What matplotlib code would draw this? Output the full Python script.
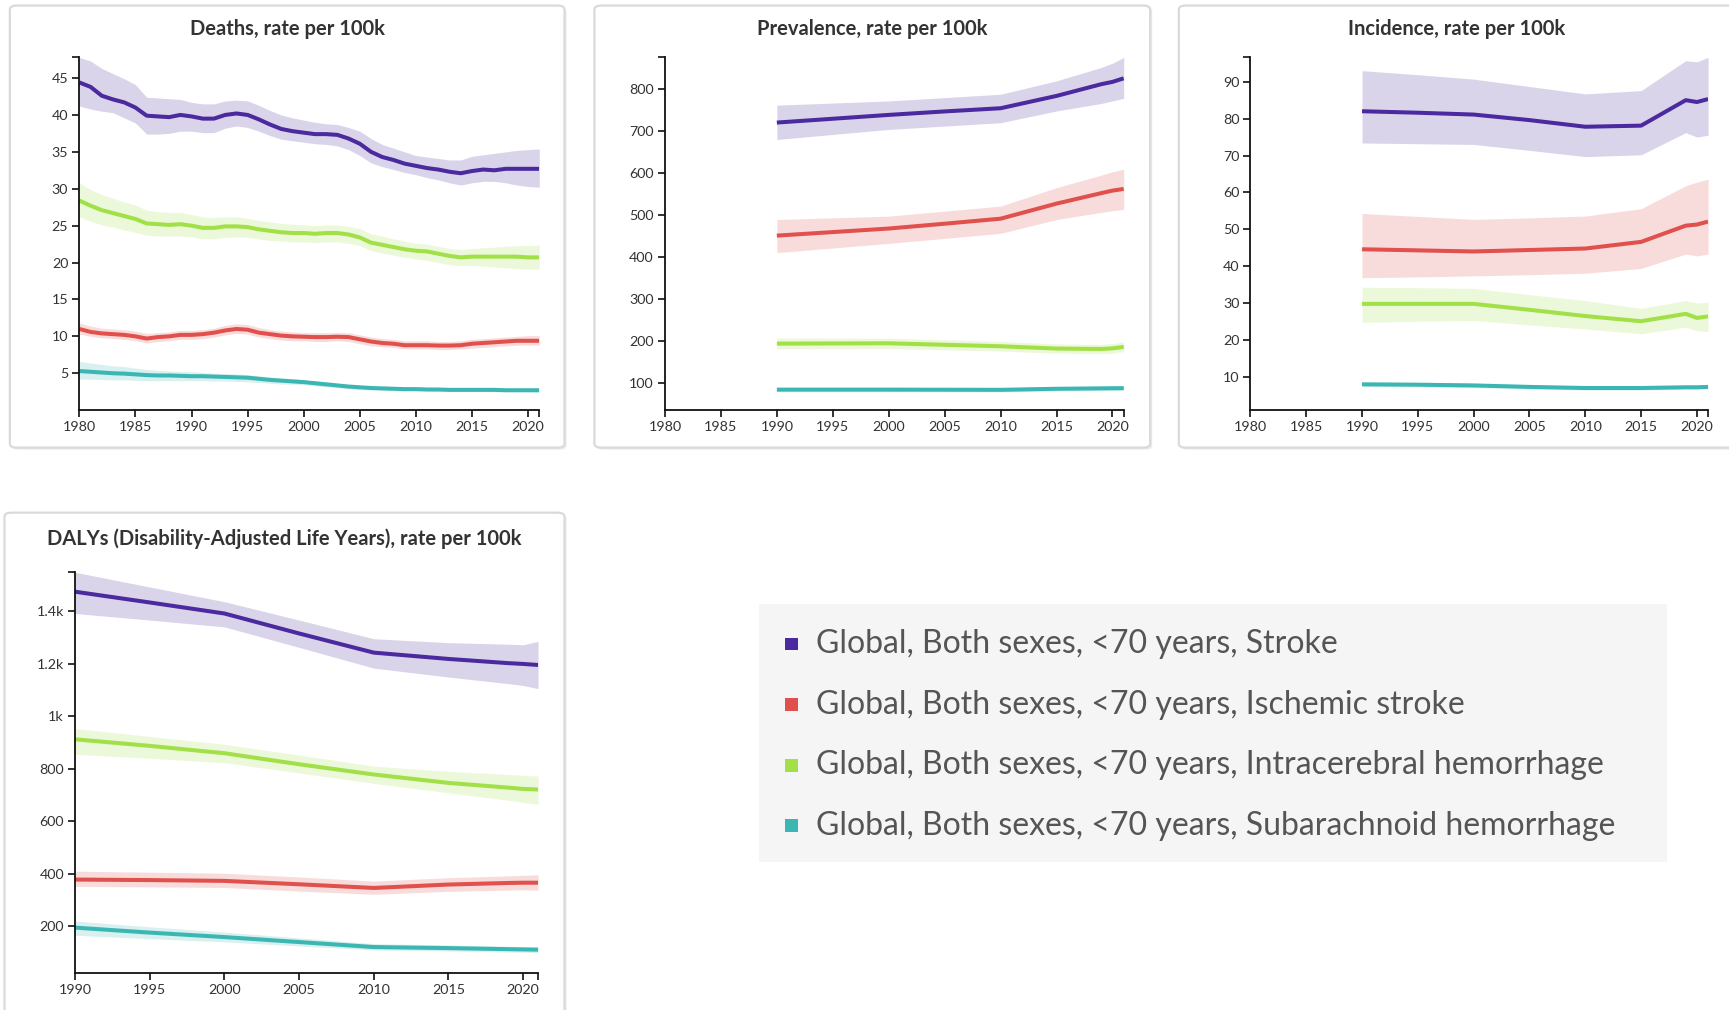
import numpy as np
import matplotlib
matplotlib.use("Agg")
import matplotlib.pyplot as plt
from matplotlib.patches import FancyBboxPatch, Rectangle

plt.rcParams['font.family'] = ['Lato', 'DejaVu Sans']

# ---- series names / colours
causes = ['Stroke', 'Ischemic stroke', 'Intracerebral hemorrhage', 'Subarachnoid hemorrhage']
colors = ['#4a2a9e', '#e0504c', '#a2e048', '#3cb6b2']
legend_labels = ['Global, Both sexes, <70 years, ' + c for c in causes]

# ---- deaths, annual 1980-2021
death_years = list(range(1980, 2022))
death_stroke = [44.4, 43.8, 42.6, 42.1, 41.7, 41.0, 39.9, 39.8, 39.7, 40.0,
                39.8, 39.5, 39.5, 40.0, 40.2, 40.0, 39.4, 38.7, 38.1, 37.8,
                37.6, 37.4, 37.4, 37.3, 36.8, 36.1, 35.0, 34.3, 33.9, 33.4,
                33.1, 32.8, 32.6, 32.3, 32.1, 32.4, 32.6, 32.5, 32.7, 32.7,
                32.7, 32.7]
death_stroke_hi = [47.8, 47.3, 46.3, 45.6, 44.9, 44.1, 42.4, 42.3, 42.2, 42.1,
                   41.7, 41.5, 41.5, 41.9, 42.0, 41.9, 41.3, 40.6, 40.0, 39.6,
                   39.3, 39.0, 38.8, 38.7, 38.3, 37.8, 36.8, 36.0, 35.5, 35.0,
                   34.5, 34.3, 34.1, 33.9, 33.9, 34.4, 34.6, 34.8, 35.0, 35.2,
                   35.3, 35.4]
death_stroke_lo = [41.2, 40.8, 40.5, 40.3, 39.6, 38.9, 37.4, 37.4, 37.5, 37.8,
                   37.8, 37.6, 37.6, 38.2, 38.5, 38.3, 37.8, 37.2, 36.7, 36.5,
                   36.3, 36.1, 36.0, 35.8, 35.3, 34.5, 33.5, 33.0, 32.6, 32.2,
                   31.9, 31.5, 31.2, 30.8, 30.5, 30.8, 31.0, 31.0, 30.8, 30.5,
                   30.3, 30.2]
death_is = [11.0, 10.6, 10.4, 10.3, 10.2, 10.0, 9.7, 9.9, 10.0, 10.2,
            10.2, 10.3, 10.5, 10.8, 11.0, 10.9, 10.5, 10.3, 10.1, 10.0,
            9.95, 9.9, 9.9, 9.95, 9.9, 9.6, 9.3, 9.1, 9.0, 8.8,
            8.8, 8.8, 8.75, 8.75, 8.8, 9.0, 9.1, 9.2, 9.3, 9.4,
            9.4, 9.4]
death_is_hi = [11.8, 11.4, 11.1, 11.0, 10.9, 10.7, 10.4, 10.5, 10.6, 10.8,
               10.8, 10.9, 11.1, 11.5, 11.7, 11.6, 11.2, 10.9, 10.7, 10.6,
               10.5, 10.5, 10.5, 10.5, 10.5, 10.2, 9.9, 9.7, 9.6, 9.4,
               9.4, 9.4, 9.3, 9.3, 9.4, 9.6, 9.7, 9.8, 9.9, 10.0,
               10.1, 10.1]
death_is_lo = [10.3, 10.0, 9.8, 9.7, 9.6, 9.4, 9.1, 9.3, 9.4, 9.6,
               9.6, 9.7, 9.9, 10.2, 10.4, 10.3, 9.9, 9.7, 9.5, 9.4,
               9.4, 9.3, 9.3, 9.4, 9.3, 9.0, 8.7, 8.6, 8.5, 8.3,
               8.3, 8.3, 8.2, 8.2, 8.3, 8.4, 8.5, 8.6, 8.7, 8.8,
               8.8, 8.8]
death_ich = [28.4, 27.7, 27.1, 26.7, 26.3, 25.9, 25.3, 25.2, 25.1, 25.2,
             25.0, 24.7, 24.7, 24.9, 24.9, 24.8, 24.5, 24.3, 24.1, 24.0,
             24.0, 23.9, 24.0, 24.0, 23.8, 23.4, 22.7, 22.4, 22.1, 21.8,
             21.6, 21.5, 21.2, 20.9, 20.7, 20.8, 20.8, 20.8, 20.8, 20.8,
             20.7, 20.7]
death_ich_hi = [30.8, 29.9, 29.2, 28.7, 28.2, 27.8, 27.1, 26.9, 26.8, 26.8,
                26.5, 26.2, 26.1, 26.2, 26.2, 26.0, 25.7, 25.5, 25.3, 25.2,
                25.1, 25.0, 25.1, 25.1, 24.9, 24.6, 23.9, 23.6, 23.2, 22.9,
                22.6, 22.5, 22.2, 21.9, 21.8, 21.9, 22.0, 22.1, 22.2, 22.3,
                22.3, 22.4]
death_ich_lo = [26.2, 25.6, 25.1, 24.8, 24.4, 24.1, 23.7, 23.6, 23.6, 23.6,
                23.5, 23.2, 23.2, 23.4, 23.5, 23.4, 23.2, 23.0, 22.9, 22.8,
                22.8, 22.7, 22.8, 22.8, 22.6, 22.3, 21.6, 21.3, 21.0, 20.7,
                20.5, 20.3, 20.0, 19.7, 19.6, 19.6, 19.5, 19.4, 19.3, 19.2,
                19.1, 19.1]
death_sah = [5.3, 5.2, 5.1, 5.0, 4.95, 4.85, 4.75, 4.7, 4.7, 4.65,
             4.6, 4.6, 4.55, 4.5, 4.45, 4.4, 4.25, 4.1, 4.0, 3.9,
             3.8, 3.65, 3.5, 3.35, 3.2, 3.1, 3.0, 2.95, 2.9, 2.85,
             2.85, 2.8, 2.8, 2.75, 2.75, 2.75, 2.75, 2.75, 2.7, 2.7,
             2.7, 2.7]
death_sah_hi = [6.6, 6.4, 6.2, 6.0, 5.9, 5.7, 5.5, 5.4, 5.3, 5.25,
                5.2, 5.1, 5.0, 4.95, 4.9, 4.8, 4.65, 4.5, 4.35, 4.25,
                4.1, 3.95, 3.8, 3.6, 3.45, 3.35, 3.25, 3.15, 3.1, 3.05,
                3.05, 3.0, 3.0, 2.95, 2.95, 2.95, 2.95, 2.95, 2.9, 2.9,
                2.9, 2.95]
death_sah_lo = [4.2, 4.2, 4.15, 4.1, 4.1, 4.05, 4.0, 4.0, 4.0, 4.0,
                4.0, 4.0, 3.95, 3.95, 3.9, 3.85, 3.75, 3.65, 3.55, 3.5,
                3.45, 3.3, 3.15, 3.05, 2.9, 2.8, 2.75, 2.7, 2.65, 2.6,
                2.6, 2.6, 2.55, 2.55, 2.55, 2.55, 2.55, 2.5, 2.5, 2.5,
                2.5, 2.45]

# ---- prevalence / incidence / DALYs, GBD estimate years
gbd_years = [1990, 1995, 2000, 2005, 2010, 2015, 2019, 2020, 2021]

prev_stroke = [720.4, 729.5, 738.7, 747, 754.6, 784, 812, 817.5, 826]
prev_stroke_hi = [762, 767, 772, 780, 788, 820, 852, 862, 876]
prev_stroke_lo = [680, 692, 704, 712, 720, 748, 766, 772, 778]
prev_is = [450.6, 459, 467.5, 479, 491, 527, 552, 558, 562]
prev_is_hi = [489, 493, 497, 509, 521, 565, 595, 603, 609]
prev_is_lo = [410, 421, 432, 444, 456, 489, 506, 510, 513]
prev_ich = [192.8, 193.2, 193.6, 190, 186.5, 181, 180, 181.5, 185]
prev_ich_hi = [206, 206, 206, 202, 198, 192, 191, 193, 197]
prev_ich_lo = [180, 181, 181, 178, 175, 170, 169, 170, 174]
prev_sah = [83, 83, 83, 82.8, 82.5, 85, 86, 86.3, 86.5]
prev_sah_hi = [88, 88, 88, 87.8, 87.5, 90, 91, 91.3, 91.5]
prev_sah_lo = [78, 78, 78, 77.8, 77.5, 80, 81, 81.3, 81.5]

inc_stroke = [82.0, 81.6, 81.1, 79.6, 77.8, 78.1, 85.0, 84.5, 85.3]
inc_stroke_hi = [93.0, 91.9, 90.7, 88.7, 86.7, 87.6, 95.7, 95.4, 96.6]
inc_stroke_lo = [73.4, 73.2, 73.0, 71.4, 69.7, 70.2, 76.2, 75.0, 75.5]
inc_is = [44.6, 44.3, 44.0, 44.4, 44.8, 46.6, 51.0, 51.3, 52.1]
inc_is_hi = [54.3, 53.5, 52.7, 53.1, 53.6, 55.6, 61.8, 62.8, 63.6]
inc_is_lo = [36.9, 37.1, 37.4, 37.7, 38.1, 39.4, 43.3, 42.8, 43.3]
inc_ich = [29.8, 29.8, 29.8, 28.2, 26.5, 25.1, 27.1, 26.0, 26.4]
inc_ich_hi = [34.3, 34.2, 34.0, 32.3, 30.7, 28.6, 30.7, 30.0, 30.3]
inc_ich_lo = [24.8, 25.1, 25.3, 24.1, 23.0, 21.7, 23.5, 22.5, 22.3]
inc_sah = [8.0, 7.9, 7.7, 7.3, 7.0, 7.0, 7.2, 7.2, 7.3]
inc_sah_hi = [8.6, 8.5, 8.3, 7.9, 7.5, 7.5, 7.7, 7.7, 7.8]
inc_sah_lo = [7.4, 7.3, 7.1, 6.8, 6.5, 6.5, 6.7, 6.7, 6.8]

daly_stroke = [1474, 1433, 1391, 1315, 1242, 1218, 1202, 1199, 1195]
daly_stroke_hi = [1548, 1492, 1436, 1366, 1295, 1280, 1274, 1272, 1285]
daly_stroke_lo = [1391, 1366, 1340, 1262, 1183, 1149, 1124, 1117, 1105]
daly_is = [378, 376, 373, 360, 346, 359, 365, 366, 366]
daly_is_hi = [410, 406, 402, 388, 372, 385, 392, 394, 396]
daly_is_lo = [352, 350, 348, 334, 322, 333, 338, 339, 338]
daly_ich = [912, 887, 859, 817, 778, 746, 728, 723, 721]
daly_ich_hi = [953, 923, 893, 852, 810, 790, 778, 775, 772]
daly_ich_lo = [855, 840, 823, 784, 744, 708, 680, 672, 665]
daly_sah = [195, 176, 159, 140, 121, 117, 113, 112, 111]
daly_sah_hi = [220, 198, 178, 156, 134, 129, 124, 123, 122]
daly_sah_lo = [166, 153, 141, 125, 110, 106, 102, 101, 100]

# ---- tick setup
yr_ticks = list(range(1980, 2021, 5))
daly_yr_ticks = list(range(1990, 2021, 5))
death_yticks = [5, 10, 15, 20, 25, 30, 35, 40, 45]
prev_yticks = [100, 200, 300, 400, 500, 600, 700, 800]
inc_yticks = [10, 20, 30, 40, 50, 60, 70, 80, 90]
daly_yticks = [200, 400, 600, 800, 1000, 1200, 1400]
daly_ylabels = ['200', '400', '600', '800', '1k', '1.2k', '1.4k']

W, H = 1729, 1010
fig = plt.figure(figsize=(W / 100, H / 100), dpi=100)
fig.patch.set_facecolor('white')


def card(x0, y0, x1, y1, title, title_y):
    # white panel with thin grey outline and a faint drop shadow
    sh = FancyBboxPatch((x0 + 0.0012, y0 - 0.002), x1 - x0, y1 - y0,
                        boxstyle='round,pad=0,rounding_size=0.004',
                        transform=fig.transFigure, facecolor='#ebebeb',
                        edgecolor='none', zorder=-3)
    fig.patches.append(sh)
    p = FancyBboxPatch((x0, y0), x1 - x0, y1 - y0,
                       boxstyle='round,pad=0,rounding_size=0.004',
                       transform=fig.transFigure, facecolor='white',
                       edgecolor='#dadada', linewidth=1.6, zorder=-2)
    fig.patches.append(p)
    fig.text((x0 + min(x1, 1.0035)) / 2, title_y, title, ha='center', va='center',
             fontsize=14.5, fontweight='bold', color='#333333')


card(0.0057, 0.5568, 0.3265, 0.9945, 'Deaths, rate per 100k', 0.9716)
card(0.3438, 0.5568, 0.6652, 0.9945, 'Prevalence, rate per 100k', 0.9716)
card(0.6818, 0.5568, 1.02, 0.9945, 'Incidence, rate per 100k', 0.9716)
card(0.0026, -0.05, 0.3265, 0.4924,
     'DALYs (Disability-Adjusted Life Years), rate per 100k', 0.4662)


def panel(rect, years, series, xlim, ylim, xticks, yticks, ylabels=None):
    ax = fig.add_axes(rect)
    ax.set_facecolor('none')
    for (mean, lo, hi), c in zip(series, colors):
        ax.fill_between(years, lo, hi, color=c, alpha=0.2, linewidth=0)
        ax.plot(years, mean, color=c, linewidth=2.9, solid_capstyle='butt')
    ax.set_xlim(*xlim)
    ax.set_ylim(*ylim)
    ax.set_xticks(xticks)
    ax.set_yticks(yticks)
    if ylabels is not None:
        ax.set_yticklabels(ylabels)
    # outer ticks at the far ends of both axis lines
    ax.set_xticks([xlim[1]], minor=True)
    ax.set_yticks([ylim[1]], minor=True)
    for s in ['top', 'right']:
        ax.spines[s].set_visible(False)
    for s in ['left', 'bottom']:
        ax.spines[s].set_linewidth(1.3)
        ax.spines[s].set_color('#111111')
    ax.tick_params(which='both', direction='out', length=5, width=1.2,
                   color='#111111', labelsize=10.3, labelcolor='#333333', pad=3)
    return ax


panel([0.0459, 0.5939, 0.2660, 0.3493], death_years,
      [(death_stroke, death_stroke_lo, death_stroke_hi),
       (death_is, death_is_lo, death_is_hi),
       (death_ich, death_ich_lo, death_ich_hi),
       (death_sah, death_sah_lo, death_sah_hi)],
      (1980, 2021), (0, 47.8), yr_ticks, death_yticks)

panel([0.3846, 0.5939, 0.2653, 0.3493], gbd_years,
      [(prev_stroke, prev_stroke_lo, prev_stroke_hi),
       (prev_is, prev_is_lo, prev_is_hi),
       (prev_ich, prev_ich_lo, prev_ich_hi),
       (prev_sah, prev_sah_lo, prev_sah_hi)],
      (1980, 2021), (34, 876), yr_ticks, prev_yticks)

panel([0.7232, 0.5939, 0.2647, 0.3493], gbd_years,
      [(inc_stroke, inc_stroke_lo, inc_stroke_hi),
       (inc_is, inc_is_lo, inc_is_hi),
       (inc_ich, inc_ich_lo, inc_ich_hi),
       (inc_sah, inc_sah_lo, inc_sah_hi)],
      (1980, 2021), (1, 96.6), yr_ticks, inc_yticks)

panel([0.0434, 0.0371, 0.2678, 0.3963], gbd_years,
      [(daly_stroke, daly_stroke_lo, daly_stroke_hi),
       (daly_is, daly_is_lo, daly_is_hi),
       (daly_ich, daly_ich_lo, daly_ich_hi),
       (daly_sah, daly_sah_lo, daly_sah_hi)],
      (1990, 2021), (24, 1548), daly_yr_ticks, daly_yticks, daly_ylabels)

# legend block
fig.patches.append(Rectangle((0.4388, 0.1463), 0.5255, 0.2554,
                             transform=fig.transFigure, facecolor='#f5f5f5',
                             edgecolor='none', zorder=-2))
row_y = [0.3624, 0.3024, 0.2424, 0.1823]
sq_w, sq_h = 0.0074, 0.0127
for y, c, lab in zip(row_y, colors, legend_labels):
    fig.patches.append(Rectangle((0.4579 - sq_w / 2, y - sq_h / 2), sq_w, sq_h,
                                 transform=fig.transFigure, facecolor=c,
                                 edgecolor='none', zorder=1))
    fig.text(0.4719, y, lab, ha='left', va='center', fontsize=23,
             color='#555555')

fig.savefig('out.png', dpi=100, facecolor='white')
